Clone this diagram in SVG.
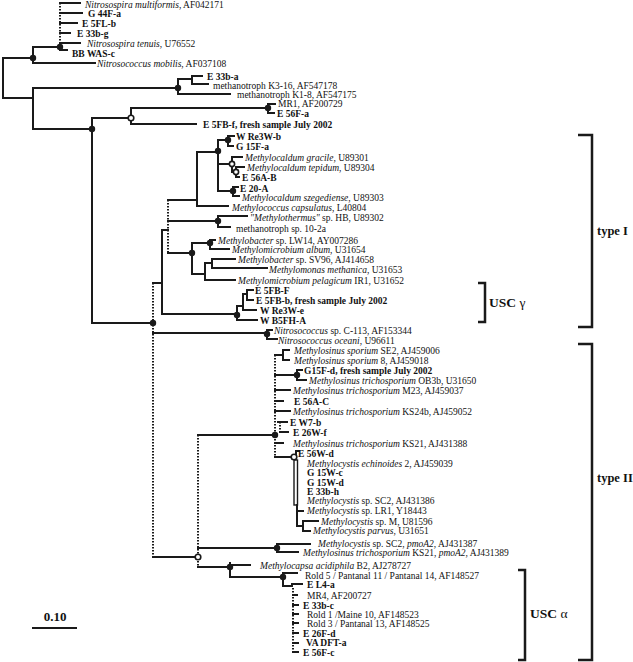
<svg xmlns="http://www.w3.org/2000/svg" width="633" height="662" viewBox="0 0 633 662">
<style>
.br{fill:none;stroke:#1a1a1a;stroke-width:2;stroke-linecap:square}
.dt{fill:none;stroke:#1a1a1a;stroke-width:2;stroke-dasharray:1.5 1.5}
.fn{fill:#1a1a1a}
.on{fill:#fff;stroke:#1a1a1a;stroke-width:1.6}
text{font-family:"Liberation Serif","Times New Roman",serif;font-size:9.5px;fill:#111}
.b{font-weight:bold}
.i{font-style:italic}
.lab{font-size:13.5px;font-weight:bold}
.typ{font-size:12.5px;font-weight:bold}
.gr{font-weight:normal}
.bk{fill:none;stroke:#1a1a1a;stroke-width:2.5}
</style>
<rect width="633" height="662" fill="#fff"/>
<g id="connectors">
<path class="br" d="M3,58V98M3,58H33M3,98H33M33,47V63M33,47H60M33,63H95M60,43V50M60,50H67M60,3H80M60,13H82M60,23H77M60,33H70M60,43H80
M33,88V129M33,88H178M178,79V94M178,94H230M178,79H192M192,76V84M192,76H202M192,84H208
M33,129H92M92,118V323M92,118H131M131,108V124M131,108H268M268,104V113M268,104H275M268,113H274M131,124H196M92,323H153
M153,283H162M162,230V314M162,230H168
M168,200H197M197,152V206M197,152H218M218,140V191M218,140H228M228,136V146M228,136H234M228,146H233
M218,164H232M232,157V172M232,157H242M232,172H236M236,167V177M236,167H244M236,177H239
M218,191H233M233,187V196M233,187H238M233,196H239M197,206H228
M168,221H218M218,216V227M218,216H247M218,227H230
M168,253H192M192,243V274M192,243H210M210,240V249M210,240H215M210,249H229M192,274H205M205,263V280M205,263H212M212,259V268M212,259H235M212,268H267M205,280H235
M162,314H237M237,306V320M237,320H257M237,306H243M243,294V310M243,310H256M243,294H247M247,290V300M247,290H253M247,300H253
M153,333H267M267,330V339M267,330H272M267,339H277
M153,557H198M198,435H275
M275,355H283M283,350V360M283,350H289M283,360H289
M275,375H297M297,370V380M297,370H302M297,380H306
M275,390H290M275,401H283M275,411H290M278,422H287M280,432H288M275,443H283M275,457H294
M296,457V451H299
M297,505V526M297,511H303M297,526H303M303,521V531M303,521H318M303,531H310
M198,548H277M277,544V552M277,544H310M277,552H298
M198,567H230M230,563V577M230,565H250M230,577H283M283,573V586M283,573H297M283,586H292V584H302
M293,595H297M293,605H298M293,614H298M293,623H298M293,633H298M293,643H298M293,652H298"/>
<path class="dt" d="M60,3V43M153,283V557M168,200V253M198,435V567M275,355V457M280,422V432M293,588V652"/>
<rect x="294" y="460" width="3.5" height="45" fill="none" stroke="#1a1a1a" stroke-width="1.4"/>
</g>
<g id="internal-nodes">
<circle class="fn" cx="33" cy="58" r="3.2"/>
<circle class="fn" cx="60" cy="47" r="3.2"/>
<circle class="fn" cx="178" cy="88" r="3.2"/>
<circle class="fn" cx="92" cy="129" r="3.2"/>
<circle class="on" cx="131" cy="118" r="2.8"/>
<circle class="fn" cx="268" cy="108" r="3.2"/>
<circle class="fn" cx="153" cy="323" r="3.2"/>
<circle class="fn" cx="218" cy="151" r="3.2"/>
<circle class="fn" cx="228" cy="140" r="3.2"/>
<circle class="on" cx="232" cy="164" r="2.6"/>
<circle class="on" cx="236" cy="172" r="2.6"/>
<circle class="fn" cx="233" cy="191" r="3.2"/>
<circle class="fn" cx="218" cy="221" r="3.2"/>
<circle class="fn" cx="192" cy="253" r="3.2"/>
<circle class="fn" cx="210" cy="243" r="3.2"/>
<circle class="fn" cx="237" cy="315" r="3.2"/>
<circle class="fn" cx="267" cy="334" r="3.2"/>
<circle class="on" cx="198" cy="557" r="2.8"/>
<circle class="fn" cx="275" cy="435" r="3.2"/>
<circle class="fn" cx="297" cy="375" r="3.2"/>
<circle class="on" cx="294" cy="457" r="2.8"/>
<circle class="fn" cx="277" cy="548" r="3.2"/>
<circle class="fn" cx="230" cy="567" r="3.2"/>
<circle class="fn" cx="283" cy="577" r="3.2"/>
</g>
<g id="leaves">
<g id="n1"><text x="85" y="7.5"><tspan class="i">Nitrosospira multiformis</tspan>, AF042171</text></g>
<g id="n2"><text class="b" x="88" y="17.3">G 44F-a</text></g>
<g id="n3"><text class="b" x="82" y="27.3">E 5FL-b</text></g>
<g id="n4"><text class="b" x="77" y="36.5">E 33b-g</text></g>
<g id="n5"><text x="87" y="46.5"><tspan class="i">Nitrosospira tenuis</tspan>, U76552</text></g>
<g id="n6"><text class="b" x="72" y="56.5">BB WAS-c</text></g>
<g id="n7"><text x="97" y="66.5"><tspan class="i">Nitrosococcus mobilis</tspan>, AF037108</text></g>
<g id="n8"><text class="b" x="207" y="79.5">E 33b-a</text></g>
<g id="n9"><text x="213" y="88.5">methanotroph K3-16, AF547178</text></g>
<g id="n10"><text x="237" y="97.5">methanotroph K1-8, AF547175</text></g>
<g id="n11"><text x="278" y="106.5">MR1, AF200729</text></g>
<g id="n12"><text class="b" x="277" y="116.5">E 56F-a</text></g>
<g id="n13"><text class="b" x="203" y="127.5">E 5FB-f, fresh sample July 2002</text></g>
<g id="n14"><text class="b" x="236" y="139.5">W Re3W-b</text></g>
<g id="n15"><text class="b" x="236" y="149.5">G 15F-a</text></g>
<g id="n16"><text x="245" y="160.5"><tspan class="i">Methylocaldum gracile</tspan>, U89301</text></g>
<g id="n17"><text x="247" y="170.5"><tspan class="i">Methylocaldum tepidum</tspan>, U89304</text></g>
<g id="n18"><text class="b" x="242" y="180.5">E 56A-B</text></g>
<g id="n19"><text class="b" x="240" y="191.5">E 20-A</text></g>
<g id="n20"><text x="242" y="200.5"><tspan class="i">Methylocaldum szegediense</tspan>, U89303</text></g>
<g id="n21"><text x="232" y="210.5"><tspan class="i">Methylococcus capsulatus</tspan>, L40804</text></g>
<g id="n22"><text x="250" y="220.5"><tspan class="i">"Methylothermus"</tspan> sp. HB, U89302</text></g>
<g id="n23"><text x="236" y="231.5">methanotroph sp. 10-2a</text></g>
<g id="n24"><text x="218" y="243.5"><tspan class="i">Methylobacter</tspan> sp. LW14, AY007286</text></g>
<g id="n25"><text x="232" y="252.5"><tspan class="i">Methylomicrobium album</tspan>, U31654</text></g>
<g id="n26"><text x="238" y="262.5"><tspan class="i">Methylobacter</tspan> sp. SV96, AJ414658</text></g>
<g id="n27"><text x="269" y="272.5"><tspan class="i">Methylomonas methanica</tspan>, U31653</text></g>
<g id="n28"><text x="238" y="284"><tspan class="i">Methylomicrobium pelagicum</tspan> IR1, U31652</text></g>
<g id="n29"><text class="b" x="255" y="294">E 5FB-F</text></g>
<g id="n30"><text class="b" x="256" y="304">E 5FB-b, fresh sample July 2002</text></g>
<g id="n31"><text class="b" x="260" y="314">W Re3W-e</text></g>
<g id="n32"><text class="b" x="260" y="324">W B5FH-A</text></g>
<g id="n33"><text x="274" y="333.8"><tspan class="i">Nitrosococcus</tspan> sp. C-113, AF153344</text></g>
<g id="n34"><text x="278" y="343.5"><tspan class="i">Nitrosococcus oceani</tspan>, U96611</text></g>
<g id="n35"><text x="294" y="353.5"><tspan class="i">Methylosinus sporium</tspan> SE2, AJ459006</text></g>
<g id="n36"><text x="294" y="363.5"><tspan class="i">Methylosinus sporium</tspan> 8, AJ459018</text></g>
<g id="n37"><text class="b" x="304" y="373.5">G15F-d, fresh sample July 2002</text></g>
<g id="n38"><text x="309" y="383.5"><tspan class="i">Methylosinus trichosporium</tspan> OB3b, U31650</text></g>
<g id="n39"><text x="293" y="393.5"><tspan class="i">Methylosinus trichosporium</tspan> M23, AJ459037</text></g>
<g id="n40"><text class="b" x="294" y="404.5">E 56A-C</text></g>
<g id="n41"><text x="293" y="414.5"><tspan class="i">Methylosinus trichosporium</tspan> KS24b, AJ459052</text></g>
<g id="n42"><text class="b" x="290" y="425.5">E W7-b</text></g>
<g id="n43"><text class="b" x="293" y="435.5">E 26W-f</text></g>
<g id="n44"><text x="293" y="446.5"><tspan class="i">Methylosinus trichosporium</tspan> KS21, AJ431388</text></g>
<g id="n45"><text class="b" x="298" y="456.5">E 56W-d</text></g>
<g id="n46"><text x="307" y="466.5"><tspan class="i">Methylocystis echinoides</tspan> 2, AJ459039</text></g>
<g id="n47"><text class="b" x="307" y="475.5">G 15W-c</text></g>
<g id="n48"><text class="b" x="307" y="485.5">G 15W-d</text></g>
<g id="n49"><text class="b" x="307" y="494.5">E 33b-h</text></g>
<g id="n50"><text x="307" y="504"><tspan class="i">Methylocystis</tspan> sp. SC2, AJ431386</text></g>
<g id="n51"><text x="307" y="514.3"><tspan class="i">Methylocystis</tspan> sp. LR1, Y18443</text></g>
<g id="n52"><text x="321" y="524.5"><tspan class="i">Methylocystis</tspan> sp. M, U81596</text></g>
<g id="n53"><text x="313" y="534.3"><tspan class="i">Methylocystis parvus</tspan>, U31651</text></g>
<g id="n54"><text x="318" y="546.5"><tspan class="i">Methylocystis</tspan> sp. SC2, <tspan class="i">pmoA2</tspan>, AJ431387</text></g>
<g id="n55"><text x="303" y="555.8"><tspan class="i">Methylosinus trichosporium</tspan> KS21, <tspan class="i">pmoA2</tspan>, AJ431389</text></g>
<g id="n56"><text x="260" y="568.5"><tspan class="i">Methylocapsa acidiphila</tspan> B2, AJ278727</text></g>
<g id="n57"><text x="305" y="578.5">Rold 5 / Pantanal 11 / Pantanal 14, AF148527</text></g>
<g id="n58"><text class="b" x="307" y="587.8">E L4-a</text></g>
<g id="n59"><text x="307" y="598.5">MR4, AF200727</text></g>
<g id="n60"><text class="b" x="303" y="608.5">E 33b-c</text></g>
<g id="n61"><text x="307" y="617.8">Rold 1 /Maine 10, AF148523</text></g>
<g id="n62"><text x="307" y="627">Rold 3 / Pantanal 13, AF148525</text></g>
<g id="n63"><text class="b" x="303" y="636.5">E 26F-d</text></g>
<g id="n64"><text class="b" x="306" y="646.3">VA DFT-a</text></g>
<g id="n65"><text class="b" x="303" y="655.8">E 56F-c</text></g>
</g>
<g id="groups">
<g id="typeI"><path class="bk" d="M578,135H592V327H578"/><text class="typ" x="597" y="235">type I</text></g>
<g id="typeII"><path class="bk" d="M578,344H592V660H578"/><text class="typ" x="597" y="482">type II</text></g>
<g id="uscg"><path class="bk" d="M478,283H485V322H478"/><text class="lab" x="489" y="307">USC <tspan class="gr">γ</tspan></text></g>
<g id="usca"><path class="bk" d="M518,570H525V660H518"/><text class="lab" x="530" y="618">USC <tspan class="gr">α</tspan></text></g>
</g>
<g id="scale"><path class="br" d="M33,628H76"/><text class="b" x="55" y="621" text-anchor="middle" style="font-size:13px">0.10</text></g>
</svg>
